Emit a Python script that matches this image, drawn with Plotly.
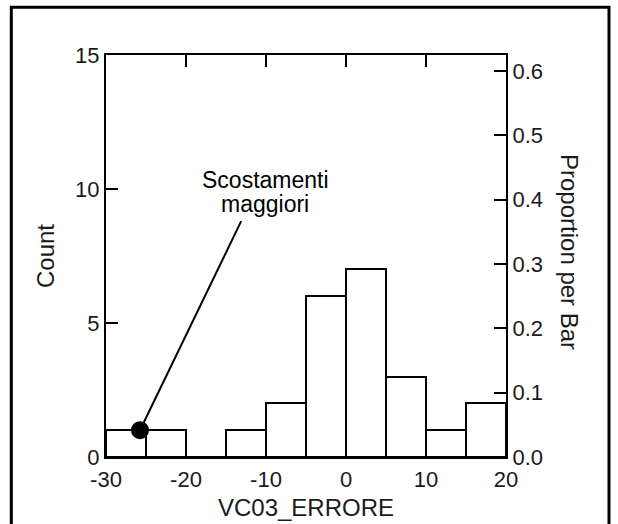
import plotly.graph_objects as go

# Histogram of VC03_ERRORE, bins of width 5
bin_starts = [-30, -25, -20, -15, -10, -5, 0, 5, 10, 15]
bin_width = 5
counts = [1, 1, 0, 1, 2, 6, 7, 3, 1, 2]
total = sum(counts)

count_ticks = [0, 5, 10, 15]
prop_ticks = [0.0, 0.1, 0.2, 0.3, 0.4, 0.5, 0.6]
x_ticks = [-30, -20, -10, 0, 10, 20]
x_tick_labels = ["-30", "-20", "-10", "0", "10", "20"]

# highlighted point and its callout
point_x = [-25.75]
point_y = [1]
callout_end = (-13.1, 8.8)
callout_lines = ["Scostamenti", "maggiori"]

W, H = 618, 524
ML, MR, MT, MB = 106, 112, 55, 67
PW, PH = W - ML - MR, H - MT - MB


def px_x(p):
    return (p - ML) / PW


def px_y(p):
    return (H - MB - p) / PH


FONT = "Arial, Liberation Sans, sans-serif"
TEXT = "#1a1a1a"
centers = [s + bin_width / 2 for s in bin_starts]
props = [c / total for c in counts]

fig = go.Figure()
fig.add_trace(go.Bar(
    x=centers, y=counts, width=bin_width,
    marker=dict(color="white", line=dict(color="black", width=2)),
    hoverinfo="skip", showlegend=False,
))
fig.add_trace(go.Scatter(
    x=centers, y=props, yaxis="y2", mode="markers",
    marker=dict(opacity=0), hoverinfo="skip", showlegend=False,
))

# callout line and dot
fig.add_shape(type="line", x0=point_x[0], y0=point_y[0],
              x1=callout_end[0], y1=callout_end[1],
              xref="x", yref="y", line=dict(color="black", width=2))
fig.add_trace(go.Scatter(
    x=point_x, y=point_y, mode="markers",
    marker=dict(color="black", size=18), hoverinfo="skip", showlegend=False,
    cliponaxis=False,
))

for line_text, py in zip(callout_lines, [180, 204]):
    fig.add_annotation(x=px_x(265), y=px_y(py), xref="paper", yref="paper",
                       xanchor="center", yanchor="middle",
                       text=line_text, showarrow=False,
                       font=dict(family=FONT, size=23, color="black"))

# right-hand axis title, reading top to bottom
fig.add_annotation(x=px_x(570), y=px_y(252), xref="paper", yref="paper",
                   xanchor="center", yanchor="middle", textangle=90,
                   text="Proportion per Bar", showarrow=False,
                   font=dict(family=FONT, size=24, color=TEXT))

# outer frame
fig.add_shape(type="rect", xref="paper", yref="paper",
              x0=px_x(11.3), x1=px_x(609), y0=px_y(540), y1=px_y(7.3),
              line=dict(color="black", width=3), layer="above")

axis_font = dict(family=FONT, size=22, color=TEXT)
fig.update_layout(
    width=W, height=H,
    margin=dict(l=ML, r=MR, t=MT, b=MB, autoexpand=False),
    paper_bgcolor="white", plot_bgcolor="white",
    bargap=0,
    xaxis=dict(
        range=[-30, 20], tickvals=x_ticks, ticktext=x_tick_labels,
        ticks="inside", ticklen=12, automargin=False, ticklabelstandoff=2,
        tickwidth=2, tickcolor="black", showline=True, linecolor="black",
        linewidth=2, mirror="ticks", showgrid=False, zeroline=False,
        tickfont=axis_font,
        title=dict(text="VC03_ERRORE", font=dict(family=FONT, size=24, color=TEXT),
                   standoff=8),
    ),
    yaxis=dict(
        range=[0, 15], tickvals=count_ticks, ticks="inside", ticklen=12,
        tickwidth=2, tickcolor="black", showline=True, linecolor="black",
        linewidth=2, showgrid=False, zeroline=False, tickfont=axis_font,
        automargin=False,
        title=dict(text="Count", font=dict(family=FONT, size=24, color=TEXT),
                   standoff=14),
    ),
    yaxis2=dict(
        range=[0, 15 / total], tickvals=prop_ticks, tickformat=".1f",
        overlaying="y", side="right", ticks="inside", ticklen=12,
        tickwidth=2, tickcolor="black", showline=True, linecolor="black",
        linewidth=2, showgrid=False, zeroline=False, tickfont=axis_font,
        automargin=False,
    ),
)

fig.write_html("out.html")
